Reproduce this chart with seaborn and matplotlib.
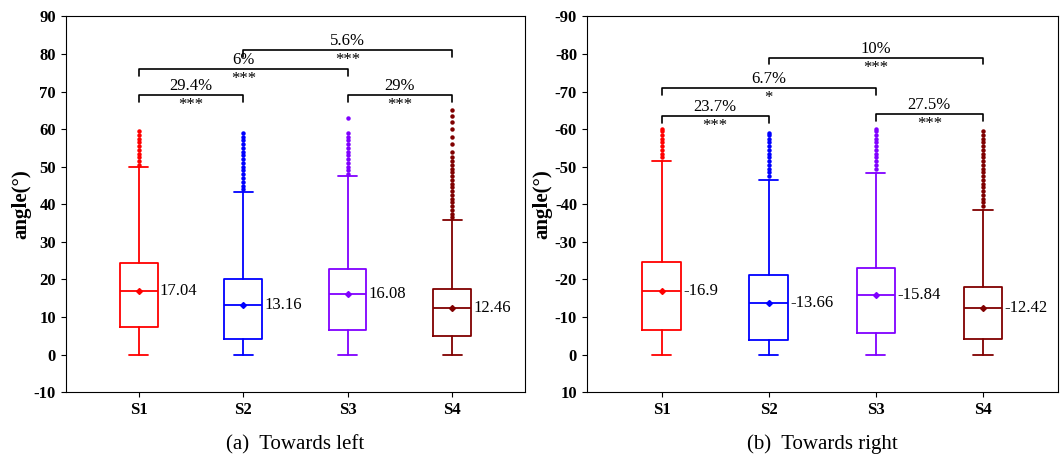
import matplotlib.pyplot as plt
import seaborn as sns

sns.set_style('ticks')
plt.rcParams['font.family'] = ['Liberation Serif', 'DejaVu Serif']
plt.rcParams['axes.unicode_minus'] = False
plt.rcParams['text.color'] = 'black'
plt.rcParams['xtick.color'] = 'black'
plt.rcParams['ytick.color'] = 'black'
plt.rcParams['axes.edgecolor'] = 'black'
plt.rcParams['axes.labelcolor'] = 'black'

groups = ['S1', 'S2', 'S3', 'S4']
colors = ['#ff0000', '#0000ff', '#8000ff', '#800000']

# left: min, q1, median, q3, upper whisker
left_stats = [[0, 7.3, 17.04, 24.4, 49.8], [0, 4.3, 13.16, 20.0, 43.2],
              [0, 6.6, 16.08, 22.9, 47.5], [0, 5.1, 12.46, 17.4, 35.7]]
left_fliers = [[50.5, 51.5, 52.5, 53.5, 54.5, 55.5, 56.5, 57.5, 58.5, 59.5],
               [44, 45, 46, 47, 48, 49, 50, 51, 52, 53, 54, 55, 56, 57, 58, 59],
               [48, 49, 50, 51, 52, 53, 54, 55, 56, 57, 58, 59, 63],
               [36.5, 37.5, 38.5, 39.5, 40.5, 41.5, 42.5, 43.5, 44.5, 45.5, 46.5, 47.5,
                48.5, 49.5, 50.5, 51.5, 52.5, 54, 56, 58, 60, 62, 63.5, 65]]
left_labels = ['17.04', '13.16', '16.08', '12.46']
left_sig = [(0, 1, 69, '29.4%', '***'), (0, 2, 76, '6%', '***'),
            (1, 3, 81, '5.6%', '***'), (2, 3, 69, '29%', '***')]

right_stats = [[0, -6.6, -16.9, -24.7, -51.6], [0, -4.0, -13.66, -21.2, -46.6],
               [0, -5.9, -15.84, -23.0, -48.4], [0, -4.2, -12.42, -18.0, -38.4]]
right_fliers = [[-52.5, -53.5, -54.5, -55.5, -56.5, -57.5, -58.5, -59.5, -60],
                [-47.5, -48.5, -49.5, -50.5, -51.5, -52.5, -53.5, -54.5, -55.5, -56.5, -57.5, -58.5, -59],
                [-49.5, -50.5, -51.5, -52.5, -53.5, -54.5, -55.5, -56.5, -57.5, -58.5, -59.5, -60],
                [-39.5, -40.5, -41.5, -42.5, -43.5, -44.5, -45.5, -46.5, -47.5, -48.5,
                 -49.5, -50.5, -51.5, -52.5, -53.5, -54.5, -55.5, -56.5, -57.5, -58.5, -59.5]]
right_labels = ['-16.9', '-13.66', '-15.84', '-12.42']
right_sig = [(0, 1, -63.5, '23.7%', '***'), (0, 2, -71, '6.7%', '*'),
             (1, 3, -79, '10%', '***'), (2, 3, -64, '27.5%', '***')]

fig = plt.figure(figsize=(10.61, 4.67), dpi=100)
ax1 = fig.add_axes([0.062, 0.16, 0.433, 0.805])
ax2 = fig.add_axes([0.553, 0.16, 0.444, 0.805])


def draw(ax, stats, fliers, labels, sig, sign, caption):
    for i, (s, f, c, lab) in enumerate(zip(stats, fliers, colors, labels)):
        st = dict(whislo=s[0], q1=s[1], med=s[2], q3=s[3], whishi=s[4], fliers=f, mean=s[2])
        ax.bxp([st], positions=[i], widths=0.36, showmeans=True, patch_artist=False,
               boxprops=dict(color=c, lw=1.3), whiskerprops=dict(color=c, lw=1.3),
               capprops=dict(color=c, lw=1.3), medianprops=dict(color=c, lw=1.3),
               meanprops=dict(marker='D', markerfacecolor=c, markeredgecolor=c, markersize=3),
               flierprops=dict(marker='o', markerfacecolor=c, markeredgecolor=c, markersize=2.2))
        ax.text(i + 0.2, s[2], lab, va='center', ha='left', fontsize=12)
    for a, b, y, pct, star in sig:
        h = 1.8 * sign
        ax.plot([a, a, b, b], [y - h, y, y, y - h], color='black', lw=1.2)
        ax.text((a + b) / 2, y + 0.3 * sign, pct, ha='center', va='bottom', fontsize=12)
        ax.text((a + b) / 2, y - 0.5 * sign, star, ha='center', va='top', fontsize=12)
    ax.set_xlim(-0.7, 3.7)
    ax.set_xticks(range(4))
    ax.set_xticklabels(groups, fontweight='bold', fontsize=12)
    ax.set_ylabel('angle(°)', fontweight='bold', fontsize=15, labelpad=2)
    ax.tick_params(labelsize=12, direction='out')
    ax.set_xlabel(caption, fontsize=15, labelpad=12)


draw(ax1, left_stats, left_fliers, left_labels, left_sig, 1, '(a)  Towards left')
ax1.set_ylim(-10, 90)
ax1.set_yticks(range(-10, 91, 10))
draw(ax2, right_stats, right_fliers, right_labels, right_sig, -1, '(b)  Towards right')
ax2.set_ylim(10, -90)
ax2.set_yticks(range(-90, 11, 10))
for ax in (ax1, ax2):
    for t in ax.get_yticklabels():
        t.set_fontweight('bold')

fig.savefig('out.png', dpi=100)
